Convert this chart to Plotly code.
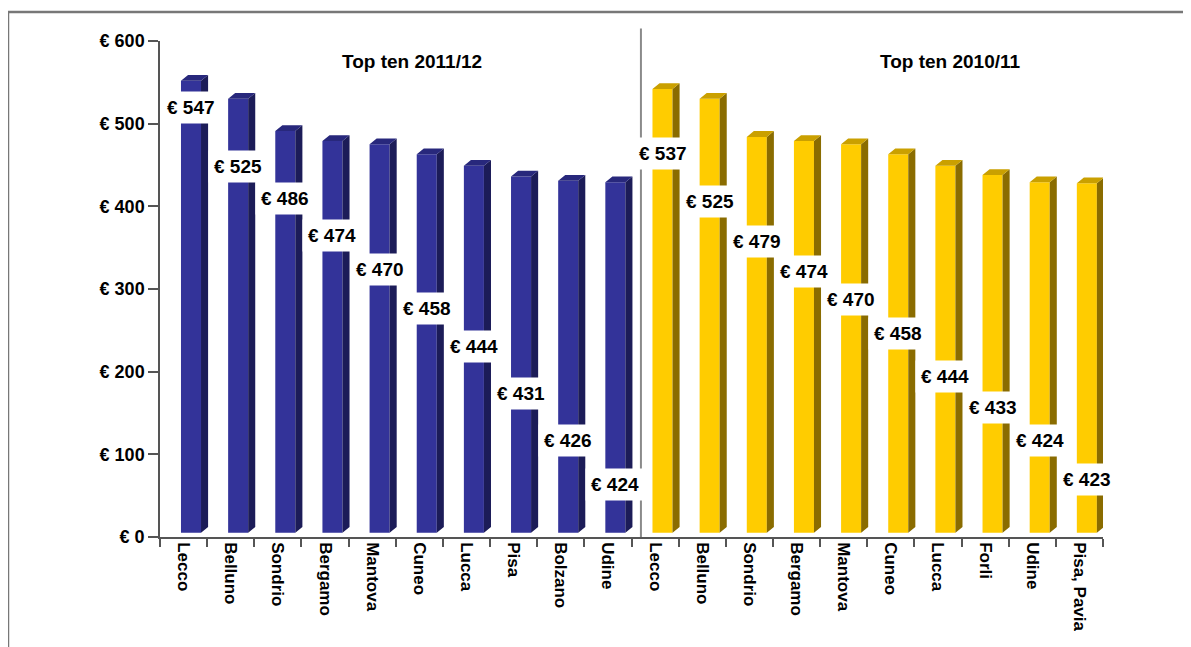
import plotly.graph_objects as go

# ---- data ----
cats_1112 = ["Lecco", "Belluno", "Sondrio", "Bergamo", "Mantova", "Cuneo", "Lucca", "Pisa", "Bolzano", "Udine"]
vals_1112 = [547, 525, 486, 474, 470, 458, 444, 431, 426, 424]
cats_1011 = ["Lecco", "Belluno", "Sondrio", "Bergamo", "Mantova", "Cuneo", "Lucca", "Forli", "Udine", "Pisa, Pavia"]
vals_1011 = [537, 525, 479, 474, 470, 458, 444, 433, 424, 423]
titles = ["Top ten 2011/12", "Top ten 2010/11"]
y_ticks = [0, 100, 200, 300, 400, 500, 600]

# ---- layout-only values (label placement heights, in axis units) ----
label_pos_1112 = [520, 448, 410, 365, 323, 277, 230, 174, 117, 63]
label_pos_1011 = [464, 406, 358, 321, 287, 246, 194, 157, 117, 69]

FLOOR = 5        # 3D floor offset
XL, XR = -0.055, 0.37   # front face extent inside category
DX, DY = 0.15, 7        # depth offset

groups = [
    dict(cats=cats_1112, vals=vals_1112, labs=label_pos_1112, start=0,
         front="#333399", side="#1c1c58", top="#28287c"),
    dict(cats=cats_1011, vals=vals_1011, labs=label_pos_1011, start=10,
         front="#FFCC00", side="#8a6c00", top="#caa000"),
]

FONT = "Liberation Sans, Arial, sans-serif"
fig = go.Figure()
annotations = []
all_x, all_text = [], []

for g in groups:
    xs = [g["start"] + i for i in range(len(g["vals"]))]
    all_x += xs
    all_text += [f"<b>{c}</b>" for c in g["cats"]]
    sx, sy, tx, ty = [], [], [], []
    for x, v in zip(xs, g["vals"]):
        xr = x + XR
        xl = x + XL
        sx += [xr, xr + DX, xr + DX, xr, xr, None]
        sy += [FLOOR, FLOOR + DY, FLOOR + v + DY, FLOOR + v, FLOOR, None]
        tx += [xl, xl + DX, xr + DX, xr, xl, None]
        ty += [FLOOR + v, FLOOR + v + DY, FLOOR + v + DY, FLOOR + v, FLOOR + v, None]
    fig.add_trace(go.Scatter(x=sx, y=sy, mode="lines", fill="toself", fillcolor=g["side"],
                             line=dict(width=0, color=g["side"]), hoverinfo="skip", showlegend=False))
    fig.add_trace(go.Scatter(x=tx, y=ty, mode="lines", fill="toself", fillcolor=g["top"],
                             line=dict(width=0, color=g["top"]), hoverinfo="skip", showlegend=False))
    fig.add_trace(go.Bar(x=[x + (XL + XR) / 2 for x in xs], y=g["vals"], base=FLOOR,
                         width=XR - XL, marker=dict(color=g["front"], line=dict(width=0)),
                         hoverinfo="skip", showlegend=False))
    for x, v, ly in zip(xs, g["vals"], g["labs"]):
        annotations.append(dict(x=x + (XL + XR) / 2, y=ly, xref="x", yref="y",
                                xanchor="center", yanchor="middle",
                                text=f"<b>€ {v}</b>", showarrow=False, bgcolor="white",
                                borderpad=5, font=dict(family=FONT, size=19, color="black")))

for i, t in enumerate(titles):
    annotations.append(dict(x=[0.267, 0.838][i], y=0.958, xref="paper", yref="paper",
                            xanchor="center", yanchor="middle",
                            text=f"<b>{t}</b>", showarrow=False,
                            font=dict(family=FONT, size=19, color="black")))

shapes = [
    dict(type="line", xref="x", yref="paper", x0=9.7, x1=9.7, y0=0, y1=1.025,
         line=dict(color="#8a8a8a", width=2), layer="above"),
    dict(type="line", xref="paper", yref="paper", x0=-0.1612, x1=1.2, y0=1.0585, y1=1.0585,
         line=dict(color="#777777", width=2.5)),
    dict(type="line", xref="paper", yref="paper", x0=-0.1612, x1=-0.1612, y0=1.0585, y1=-0.3,
         line=dict(color="#777777", width=2.5)),
]

fig.update_layout(
    width=1191, height=647,
    margin=dict(l=152, r=96, t=33, b=118),
    paper_bgcolor="white", plot_bgcolor="white",
    barmode="overlay",
    hovermode=False,
    annotations=annotations,
    shapes=shapes,
    xaxis=dict(range=[-0.5, 19.5], tickmode="array", tickvals=all_x, ticktext=all_text,
               tickangle=90, ticks="", showgrid=False, zeroline=False,
               showline=True, linecolor="#555555", linewidth=1.5,
               tickfont=dict(family=FONT, size=17, color="black"),
               minor=dict(tickmode="array", tickvals=[k - 0.5 for k in range(21)],
                          ticks="outside", ticklen=8, tickcolor="#555555", tickwidth=1.5,
                          showgrid=False)),
    yaxis=dict(range=[0, 600], tickmode="array", tickvals=y_ticks,
               ticktext=[f"<b>€ {v}</b>" for v in y_ticks], ticks="outside", ticklen=10,
               tickcolor="#555555", tickwidth=1.5, showgrid=False, zeroline=False,
               showline=True, linecolor="#555555", linewidth=1.5,
               tickfont=dict(family=FONT, size=18, color="black")),
)

fig.write_html("out.html")
